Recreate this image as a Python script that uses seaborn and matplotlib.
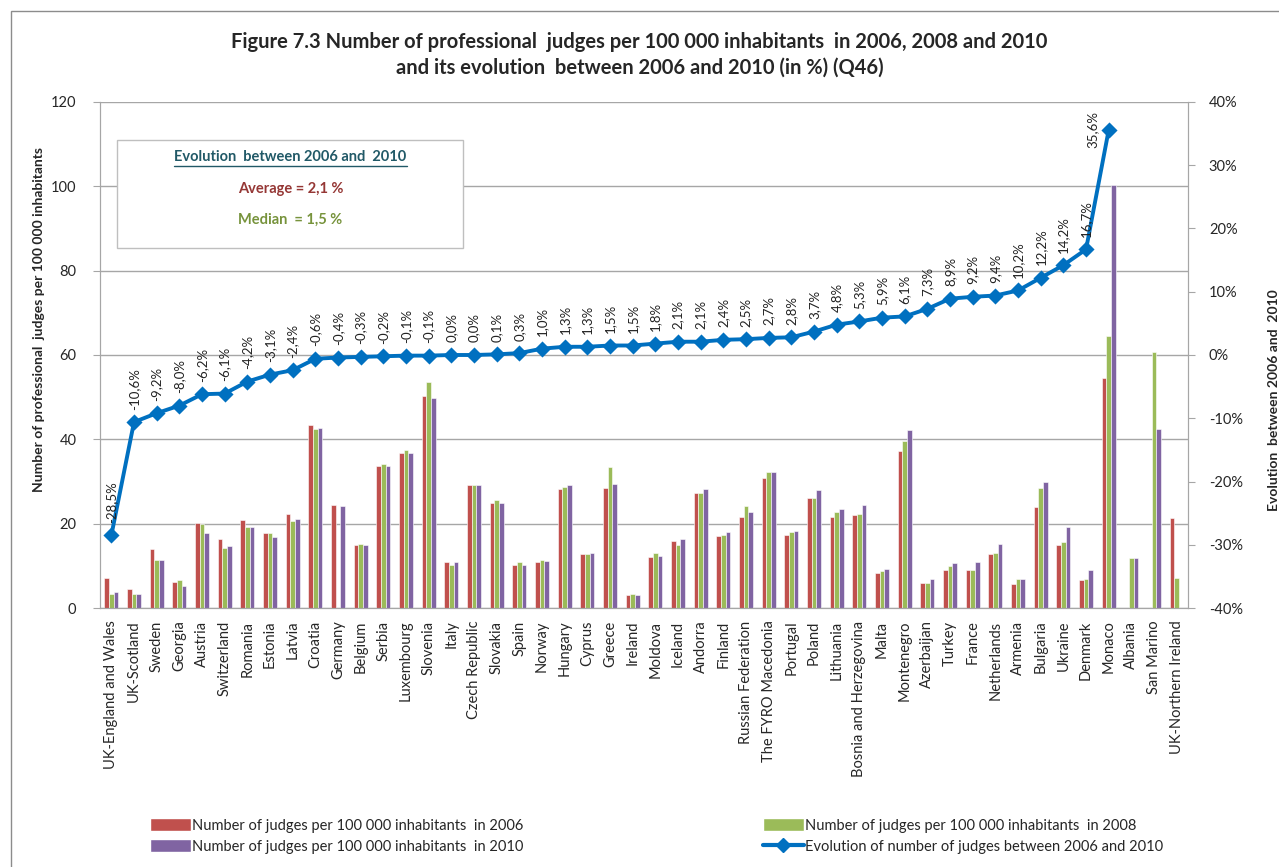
import numpy as np
import pandas as pd
import matplotlib
matplotlib.use('Agg')
import matplotlib.pyplot as plt
import seaborn as sns
from matplotlib.patches import Rectangle, Patch
from matplotlib.lines import Line2D
from matplotlib.ticker import FuncFormatter

nan = np.nan

# ---- DATA ----
countries = ["UK-England and Wales", "UK-Scotland", "Sweden", "Georgia", "Austria", "Switzerland",
             "Romania", "Estonia", "Latvia", "Croatia", "Germany", "Belgium", "Serbia", "Luxembourg",
             "Slovenia", "Italy", "Czech Republic", "Slovakia", "Spain", "Norway", "Hungary", "Cyprus",
             "Greece", "Ireland", "Moldova", "Iceland", "Andorra", "Finland", "Russian Federation",
             "The FYRO Macedonia", "Portugal", "Poland", "Lithuania", "Bosnia and Herzegovina", "Malta",
             "Montenegro", "Azerbaijan", "Turkey", "France", "Netherlands", "Armenia", "Bulgaria",
             "Ukraine", "Denmark", "Monaco", "Albania", "San Marino", "UK-Northern Ireland"]

judges_2006 = [7.1, 4.4, 14.0, 6.2, 20.1, 16.4, 20.8, 17.9, 22.3, 43.3, 24.5, 14.9, 33.7, 36.8,
               50.2, 10.8, 29.1, 24.8, 10.2, 10.8, 28.2, 12.7, 28.5, 3.1, 12.1, 15.8, 27.3, 17.1,
               21.7, 30.8, 17.4, 26.1, 21.7, 22.1, 8.4, 37.2, 5.9, 9.0, 9.0, 12.7, 5.6, 23.9,
               14.9, 6.6, 54.5, nan, nan, 21.3]
judges_2008 = [3.3, 3.3, 11.5, 6.6, 19.9, 14.2, 19.2, 17.7, 20.7, 42.5, nan, 15.2, 34.1, 37.5,
               53.6, 10.2, 29.1, 25.7, 10.8, 11.5, 28.8, 12.7, 33.4, 3.4, 13.0, 14.9, 27.3, 17.4,
               24.2, 32.3, 18.0, 26.1, 22.7, 22.4, 8.7, 39.7, 5.9, 10.0, 9.0, 13.0, 6.9, 28.5,
               15.6, 6.9, 64.5, 11.8, 60.7, 7.1]
judges_2010 = [3.7, 3.3, 11.5, 5.3, 17.7, 14.6, 19.2, 16.8, 21.0, 42.8, 24.2, 14.9, 33.7, 36.8,
               49.9, 10.8, 29.1, 24.8, 10.2, 11.1, 29.1, 13.0, 29.4, 3.1, 12.4, 16.4, 28.2, 18.0,
               22.7, 32.3, 18.3, 27.9, 23.6, 24.5, 9.3, 42.2, 6.9, 10.6, 10.9, 15.3, 6.9, 29.8,
               19.2, 9.0, 100.3, 11.8, 42.4, nan]
evolution = [-28.5, -10.6, -9.2, -8.0, -6.2, -6.1, -4.2, -3.1, -2.4, -0.6, -0.4, -0.3, -0.2, -0.1,
             -0.1, 0.0, 0.0, 0.1, 0.3, 1.0, 1.3, 1.3, 1.5, 1.5, 1.8, 2.1, 2.1, 2.4, 2.5, 2.7, 2.8,
             3.7, 4.8, 5.3, 5.9, 6.1, 7.3, 8.9, 9.2, 9.4, 10.2, 12.2, 14.2, 16.7, 35.6, nan, nan, nan]

years = ["2006", "2008", "2010"]
bar_colors = ["#C0504D", "#9BBB59", "#8064A2"]
line_color = "#0070C0"
grid_color = "#A6A6A6"

bars = pd.DataFrame({
    "country": countries * 3,
    "year": [y for y in years for _ in countries],
    "value": judges_2006 + judges_2008 + judges_2010,
}).dropna()
evo = pd.DataFrame({"country": countries, "evo": evolution}).dropna()

# ---- FIGURE ----
sns.set_style("white")
plt.rcParams['font.family'] = ['Lato', 'DejaVu Sans']

fig = plt.figure(figsize=(12.79, 8.67), dpi=100)
ax = fig.add_axes([0.0782, 0.2987, 0.8507, 0.5837])

sns.barplot(data=bars, x="country", y="value", hue="year", order=countries, hue_order=years,
            palette=bar_colors, width=0.62, saturation=1, edgecolor="white", linewidth=0.4,
            legend=False, ax=ax, zorder=2)

ax2 = ax.twinx()
sns.pointplot(data=evo, x="country", y="evo", order=countries, color=line_color, markers="D",
              markersize=6.5, linewidth=2.8, errorbar=None, ax=ax2)

# data labels on the line
vmax = evo["evo"].max()
for i, v in enumerate(evolution):
    if np.isnan(v):
        continue
    lab = f"{v:.1f}%".replace(".", ",")
    if v == vmax:
        ax2.annotate(lab, (i, v), xytext=(-7, 0), textcoords="offset points", rotation=90,
                     ha="right", va="center", fontsize=9.5, color="#222222")
    else:
        ax2.annotate(lab, (i, v), xytext=(0, 9), textcoords="offset points", rotation=90,
                     ha="center", va="bottom", fontsize=9.5, color="#222222")

# ---- AXES ----
ax.set_xlim(-0.5, len(countries) - 0.5)
ax.set_ylim(0, 120)
ax.set_yticks(np.arange(0, 121, 20))
ax.set_xticks(np.arange(len(countries)))
ax.set_xticklabels(countries, rotation=90, fontsize=10.5)
ax.set_xticks(np.arange(-0.5, len(countries), 1), minor=True)
ax.tick_params(axis="x", which="major", length=0, pad=9)
ax.tick_params(axis="x", which="minor", length=6, color=grid_color, width=1)
ax.tick_params(axis="y", length=5, color=grid_color, labelsize=10.5, pad=12, left=True)
ax.yaxis.grid(True, color=grid_color, linewidth=1)
ax.set_axisbelow(True)
ax.set_xlabel("")
ax.set_ylabel("Number of professional  judges per 100 000 inhabitants", fontsize=10,
              fontweight="bold")
ax.yaxis.set_label_coords(-0.051, 0.571)

ax2.set_ylim(-40, 40)
ax2.set_yticks(np.arange(-40, 41, 10))
ax2.yaxis.set_major_formatter(FuncFormatter(lambda v, p: f"{v:.0f}%"))
ax2.tick_params(axis="y", length=5, color=grid_color, labelsize=10.5, pad=10, right=True)
ax2.set_ylabel("Evolution  between 2006 and  2010", fontsize=10, fontweight="bold")
ax2.yaxis.set_label_coords(1.0735, 0.41)

for a in (ax, ax2):
    for s in a.spines.values():
        s.set_color(grid_color)
    a.spines["top"].set_visible(False)

# ---- INFO BOX ----
ax.add_patch(Rectangle((0.0156, 0.711), 0.318, 0.214, transform=ax.transAxes, facecolor="white",
                       edgecolor="#BFBFBF", linewidth=1, zorder=3))
t1 = ax.text(0.175, 0.891, "Evolution  between 2006 and  2010", transform=ax.transAxes,
             ha="center", va="center", fontsize=10.5, fontweight="bold", color="#215967", zorder=4)
ax.text(0.175, 0.828, "Average = 2,1 %", transform=ax.transAxes, ha="center", va="center",
        fontsize=10.5, fontweight="bold", color="#953735", zorder=4)
ax.text(0.175, 0.767, "Median  = 1,5 %", transform=ax.transAxes, ha="center", va="center",
        fontsize=10.5, fontweight="bold", color="#77933C", zorder=4)

# ---- TITLE ----
fig.text(0.5, 0.952, "Figure 7.3 Number of professional  judges per 100 000 inhabitants  in 2006, 2008 and 2010",
         ha="center", va="center", fontsize=14.5, fontweight="bold")
fig.text(0.5, 0.922, "and its evolution  between 2006 and 2010 (in %) (Q46)",
         ha="center", va="center", fontsize=14.5, fontweight="bold")

# ---- LEGEND ----
handles = [Patch(facecolor=bar_colors[0]), Patch(facecolor=bar_colors[2]),
           Patch(facecolor=bar_colors[1]),
           Line2D([], [], color=line_color, linewidth=3, marker="D", markersize=7)]
labels = ["Number of judges per 100 000 inhabitants  in 2006",
          "Number of judges per 100 000 inhabitants  in 2010",
          "Number of judges per 100 000 inhabitants  in 2008",
          "Evolution of number of judges between 2006 and 2010"]
fig.legend(handles, labels, ncol=2, loc="center left", bbox_to_anchor=(0.107, 0.036),
           frameon=False, fontsize=10.5, handlelength=2.8, handleheight=1.0, handletextpad=0.1,
           columnspacing=16.4, labelspacing=0.45)

# figure frame
fig.add_artist(Rectangle((0.0086, -0.2), 1.5, 1.187, transform=fig.transFigure, fill=False,
                         edgecolor="#8C8C8C", linewidth=1))

# underline for the box title
fig.canvas.draw()
bb = t1.get_window_extent().transformed(ax.transAxes.inverted())
ax.plot([bb.x0, bb.x1], [bb.y0 - 0.004, bb.y0 - 0.004], transform=ax.transAxes,
        color="#215967", linewidth=1, zorder=4)

fig.savefig("out.png", dpi=100)
